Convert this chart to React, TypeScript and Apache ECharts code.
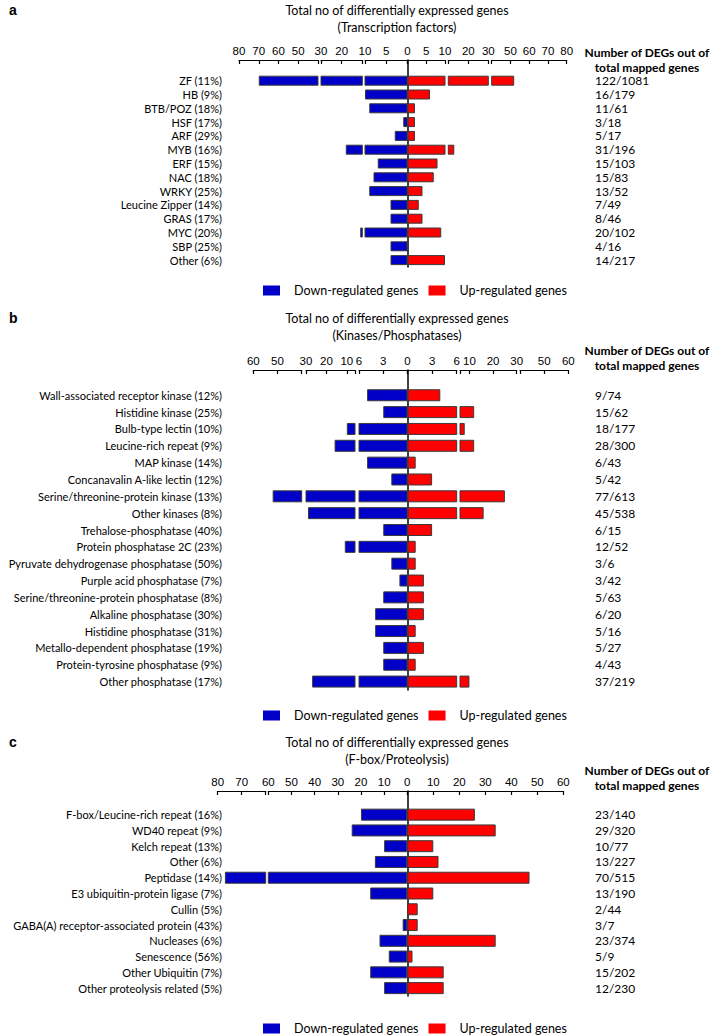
import React, { useEffect, useRef } from "react";
import * as echarts from "echarts";

// ---------- Panel a: Transcription factors ----------
const catsA = ["ZF (11%)", "HB (9%)", "BTB/POZ (18%)", "HSF (17%)", "ARF (29%)", "MYB (16%)", "ERF (15%)", "NAC (18%)", "WRKY (25%)", "Leucine Zipper (14%)", "GRAS (17%)", "MYC (20%)", "SBP (25%)", "Other (6%)"];
const downA = [70, 10, 9, 1, 3, 18, 7, 8, 9, 4, 4, 11, 4, 4];
const upA = [52, 6, 2, 2, 2, 13, 8, 7, 4, 3, 4, 9, 0, 10];
const countsA = ["122/1081", "16/179", "11/61", "3/18", "5/17", "31/196", "15/103", "15/83", "13/52", "7/49", "8/46", "20/102", "4/16", "14/217"];

// ---------- Panel b: Kinases/Phosphatases ----------
const catsB = ["Wall-associated receptor kinase (12%)", "Histidine kinase (25%)", "Bulb-type lectin (10%)", "Leucine-rich repeat (9%)", "MAP kinase (14%)", "Concanavalin A-like lectin (12%)", "Serine/threonine-protein kinase (13%)", "Other kinases (8%)", "Trehalose-phosphatase (40%)", "Protein phosphatase 2C (23%)", "Pyruvate dehydrogenase phosphatase (50%)", "Purple acid phosphatase (7%)", "Serine/threonine-protein phosphatase (8%)", "Alkaline phosphatase (30%)", "Histidine phosphatase (31%)", "Metallo-dependent phosphatase (19%)", "Protein-tyrosine phosphatase (9%)", "Other phosphatase (17%)"];
const downB = [5, 3, 10, 16, 5, 2, 52, 29, 3, 11, 2, 1, 3, 4, 4, 3, 3, 27];
const upB = [4, 12, 8, 12, 1, 3, 25, 16, 3, 1, 1, 2, 2, 2, 1, 2, 1, 10];
const countsB = ["9/74", "15/62", "18/177", "28/300", "6/43", "5/42", "77/613", "45/538", "6/15", "12/52", "3/6", "3/42", "5/63", "6/20", "5/16", "5/27", "4/43", "37/219"];

// ---------- Panel c: F-box/Proteolysis ----------
const catsC = ["F-box/Leucine-rich repeat (16%)", "WD40 repeat (9%)", "Kelch repeat (13%)", "Other (6%)", "Peptidase (14%)", "E3 ubiquitin-protein ligase (7%)", "Cullin (5%)", "GABA(A) receptor-associated protein (43%)", "Nucleases (6%)", "Senescence (56%)", "Other Ubiquitin (7%)", "Other proteolysis related (5%)"];
const downC = [20, 24, 10, 14, 77, 16, 0, 2, 12, 8, 16, 10];
const upC = [26, 34, 10, 12, 47, 10, 4, 4, 34, 2, 14, 14];
const countsC = ["23/140", "29/320", "10/77", "13/227", "70/515", "13/190", "2/44", "3/7", "23/374", "5/9", "15/202", "12/230"];

// ---------- Broken-axis segments (tick values and tick labels) ----------
type Seg = { min: number; max: number; ticks: number[]; labels: number[] };
const segsA: Seg[] = [
  { min: -80, max: -40, ticks: [-80, -70, -60, -50, -40], labels: [-80, -70, -60, -50] },
  { min: -30, max: -10, ticks: [-30, -20, -10], labels: [-30, -20] },
  { min: -10, max: 0, ticks: [-10, -5, 0], labels: [-10, -5, 0] },
  { min: 0, max: 10, ticks: [0, 5, 10], labels: [5, 10] },
  { min: 10, max: 30, ticks: [10, 20, 30], labels: [20, 30] },
  { min: 40, max: 80, ticks: [40, 50, 60, 70, 80], labels: [50, 60, 70, 80] },
];
const segsB: Seg[] = [
  { min: -60, max: -40, ticks: [-60, -50, -40], labels: [-60, -50] },
  { min: -30, max: -6, ticks: [-30, -20, -10, -6], labels: [-30, -20, -10] },
  { min: -6, max: 0, ticks: [-6, -3, 0], labels: [-6, -3, 0] },
  { min: 0, max: 6, ticks: [0, 3, 6], labels: [3, 6] },
  { min: 6, max: 30, ticks: [6, 10, 20, 30], labels: [10, 20, 30] },
  { min: 40, max: 60, ticks: [40, 50, 60], labels: [50, 60] },
];
const segsC: Seg[] = [
  { min: -80, max: -60, ticks: [-80, -70, -60], labels: [-80, -70] },
  { min: -60, max: 0, ticks: [-60, -50, -40, -30, -20, -10, 0], labels: [-60, -50, -40, -30, -20, -10, 0] },
  { min: 0, max: 60, ticks: [0, 10, 20, 30, 40, 50, 60], labels: [10, 20, 30, 40, 50, 60] },
];

const titlesA = ["Total no of differentially expressed genes", "(Transcription factors)"];
const titlesB = ["Total no of differentially expressed genes", "(Kinases/Phosphatases)"];
const titlesC = ["Total no of differentially expressed genes", "(F-box/Proteolysis)"];
const legendNames = ["Down-regulated genes", "Up-regulated genes"];
const rightHeader = ["Number of DEGs out of", "total mapped genes"];

// ---------- Layout (pixels) ----------
const BLUE = "#0000c8";
const RED = "#ff0000";
const LABEL_RIGHT = 222;
const NUM_LEFT = 595;
const TITLE_X = 397;
const HEAD_X = 647;

const panels = [
  {
    letter: "a", cats: catsA, down: downA, up: upA, counts: countsA, segs: segsA, titles: titlesA,
    edges: [[239, 318], [321, 362.3], [365, 407.5], [407.5, 445], [448.3, 488.3], [491.7, 566.7]],
    center: 3, top: 60, bottom: 267, barWidth: 10, titleY: 10, headY: 52, legendY: 287,
  },
  {
    letter: "b", cats: catsB, down: downB, up: upB, counts: countsB, segs: segsB, titles: titlesB,
    edges: [[253.3, 301.7], [306, 355], [359, 407.5], [407.5, 456.7], [460, 516.7], [520, 568.3]],
    center: 3, top: 370, bottom: 690, barWidth: 12, titleY: 318, headY: 350, legendY: 712,
  },
  {
    letter: "c", cats: catsC, down: downC, up: upC, counts: countsC, segs: segsC, titles: titlesC,
    edges: [[217.7, 265.7], [268.3, 407.3], [407.3, 563.3]],
    center: 2, top: 791, bottom: 996, barWidth: 12, titleY: 742, headY: 770, legendY: 1025,
  },
];

function buildOption() {
  const grid: any[] = [];
  const xAxis: any[] = [];
  const yAxis: any[] = [];
  const series: any[] = [];
  const graphic: any[] = [];
  const legend: any[] = [];

  panels.forEach((p) => {
    const cats = ["", ...p.cats];
    const counts = ["", ...p.counts];
    const down = [null, ...p.down.map((v) => (v ? -v : null))];
    const up = [null, ...p.up.map((v) => (v ? v : null))];

    p.segs.forEach((s, i) => {
      const gi = grid.length;
      const [l, r] = p.edges[i];
      const isCenter = i === p.center;
      grid.push({ left: l, width: r - l, top: p.top, height: p.bottom - p.top, containLabel: false, outerBoundsMode: "none" });
      xAxis.push({
        gridIndex: gi, type: "value", position: "top", min: s.min, max: s.max,
        axisLine: { show: true, onZero: false, lineStyle: { color: "#000", width: 1.2 } },
        axisTick: { show: true, inside: true, length: 4, customValues: s.ticks, lineStyle: { color: "#000", width: 1.2 } },
        axisLabel: {
          show: true, customValues: s.labels, margin: 3, fontSize: 11.5,
          fontFamily: "Liberation Sans, Arial", color: "#000",
          formatter: (v: number) => String(Math.abs(v)),
        },
        splitLine: { show: false },
      });
      const yi = yAxis.length;
      yAxis.push({
        gridIndex: gi, type: "category", inverse: true, data: cats,
        axisLine: { show: isCenter, onZero: false, lineStyle: { color: "#000", width: 1.5 } },
        axisTick: { show: false },
        axisLabel: { show: isCenter, interval: 0, margin: l - LABEL_RIGHT, fontSize: 11, fontFamily: "Lato", color: "#000" },
        splitLine: { show: false },
      });
      if (isCenter) {
        yAxis.push({
          gridIndex: gi, type: "category", inverse: true, position: "right", data: counts,
          axisLine: { show: false }, axisTick: { show: false },
          axisLabel: { show: true, interval: 0, align: "left", margin: NUM_LEFT - r, fontSize: 12, fontFamily: "Lato", color: "#000" },
          splitLine: { show: false },
        });
      }
      series.push({
        type: "bar", name: legendNames[0], xAxisIndex: gi, yAxisIndex: yi, data: down,
        barWidth: p.barWidth, barGap: "-100%", clip: true,
        itemStyle: { color: BLUE, borderColor: "#3a3a3a", borderWidth: 1 },
      });
      series.push({
        type: "bar", name: legendNames[1], xAxisIndex: gi, yAxisIndex: yi, data: up,
        barWidth: p.barWidth, barGap: "-100%", clip: true,
        itemStyle: { color: RED, borderColor: "#3a3a3a", borderWidth: 1 },
      });
    });

    legend.push({
      data: legendNames, left: 258, top: p.legendY - 8, itemWidth: 17, itemHeight: 10, itemGap: 10,
      icon: "rect", selectedMode: false, itemStyle: { borderWidth: 0 },
      textStyle: { fontFamily: "Lato", fontSize: 12.5, color: "#000", padding: [0, 0, 0, 9] },
    });

    graphic.push({
      type: "text", x: 9, y: p.titleY,
      style: { text: p.letter, fontSize: 14, fontWeight: "bold", fontFamily: "Liberation Sans, Arial", fill: "#000", verticalAlign: "middle" },
    });
    p.titles.forEach((t, k) => {
      graphic.push({
        type: "text", x: TITLE_X, y: p.titleY + k * 17,
        style: { text: t, fontSize: 12.5, fontFamily: "Lato", fill: "#000", align: "center", verticalAlign: "middle" },
      });
    });
    rightHeader.forEach((t, k) => {
      graphic.push({
        type: "text", x: HEAD_X, y: p.headY + k * 15,
        style: { text: t, fontSize: 12, fontWeight: "bold", fontFamily: "Lato", fill: "#000", align: "center", verticalAlign: "middle" },
      });
    });
  });

  return { animation: false, backgroundColor: "#fff", grid, xAxis, yAxis, series, legend, graphic };
}

export default function App() {
  const ref = useRef<HTMLDivElement>(null);
  useEffect(() => {
    document.body.style.margin = "0";
    if (!ref.current) return;
    const chart = echarts.init(ref.current, undefined, { renderer: "svg" });
    chart.setOption(buildOption() as any);
    return () => chart.dispose();
  }, []);
  return <div ref={ref} style={{ width: 713, height: 1036 }} />;
}
